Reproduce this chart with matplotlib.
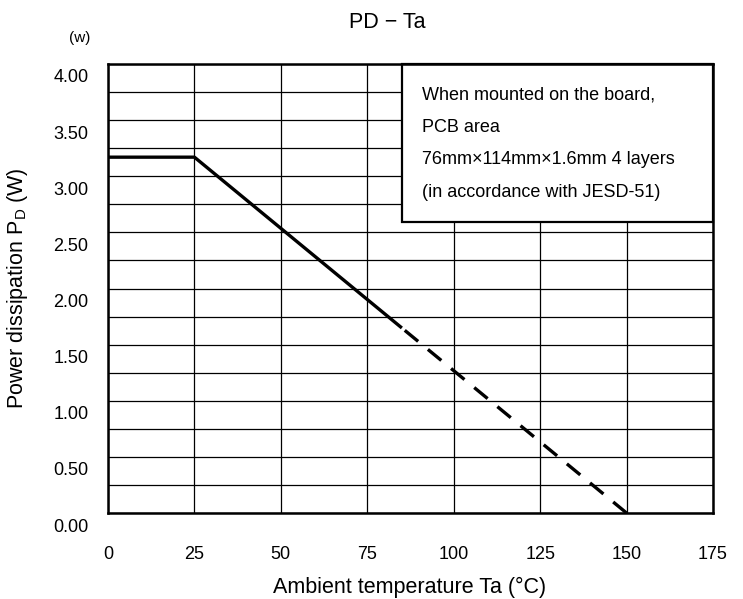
import matplotlib
matplotlib.use("Agg")
import matplotlib.pyplot as plt
from matplotlib.patches import Rectangle
from matplotlib.transforms import ScaledTranslation
import numpy as np

plt.rcParams['font.family'] = ['Liberation Sans', 'DejaVu Sans']

# Data
solid_ta = [0, 25, 85]
solid_pd = [3.17, 3.17, 3.17 * (150 - 85) / 125]
dash_ta = [150, 85]
dash_pd = [0.0, 3.17 * (150 - 85) / 125]
x_ticks = [0, 25, 50, 75, 100, 125, 150, 175]
y_ticks = [0.0, 0.5, 1.0, 1.5, 2.0, 2.5, 3.0, 3.5, 4.0]
y_grid = np.arange(0, 4.01, 0.25)
note_lines = ["When mounted on the board,", "PCB area",
              "76mm×114mm×1.6mm 4 layers", "(in accordance with JESD-51)"]

fig = plt.figure(figsize=(7.43, 5.99), dpi=100)
ax = fig.add_axes([108/743, 1-513/599, (713-108)/743, (513-64)/599])
ax.set_xlim(0, 175)
ax.set_ylim(0, 4.0)

for x in x_ticks:
    ax.axvline(x, color='black', lw=0.9, zorder=1)
for y in y_grid:
    ax.axhline(y, color='black', lw=0.9, zorder=1)

ax.plot(solid_ta, solid_pd, color='black', lw=2.4, zorder=3, solid_capstyle='butt')
ax.plot(dash_ta, dash_pd, color='black', lw=2.4, zorder=3, dashes=(5.2, 3.8),
        dash_capstyle='butt')

# note box
ax.add_patch(Rectangle((85, 2.59), 90, 1.41, facecolor='white', edgecolor='black',
                       lw=1.6, zorder=4, clip_on=False))
for i, line in enumerate(note_lines):
    ax.text(90.8, 3.724 - i * 0.289, line, fontsize=13, va='center', ha='left', zorder=5)

ax.set_xticks(x_ticks)
ax.set_xticklabels([str(v) for v in x_ticks])
ax.set_yticks(y_ticks)
ax.set_yticklabels([f"{v:.2f}" for v in y_ticks])
ax.tick_params(axis='both', length=0, labelsize=13)
ax.tick_params(axis='x', pad=24)
ax.tick_params(axis='y', pad=14)
off = ScaledTranslation(0, -12/100, fig.dpi_scale_trans)
for lab in ax.get_yticklabels():
    lab.set_transform(lab.get_transform() + off)

for s in ax.spines.values():
    s.set_linewidth(1.8)
    s.set_zorder(6)

fig.text(410/743, 1-587/599, "Ambient temperature Ta (°C)", fontsize=15.5, ha='center', va='center')
fig.text(18/743, 1-288/599, "Power dissipation P$_\\mathregular{D}$ (W)", fontsize=15.5,
         ha='center', va='center', rotation=90)
fig.text(387/743, 1-23/599, "PD − Ta", fontsize=15.5, ha='center', va='center')
fig.text(80/743, 1-38/599, "(w)", fontsize=11, ha='center', va='center')

fig.savefig("out.png", dpi=100)
